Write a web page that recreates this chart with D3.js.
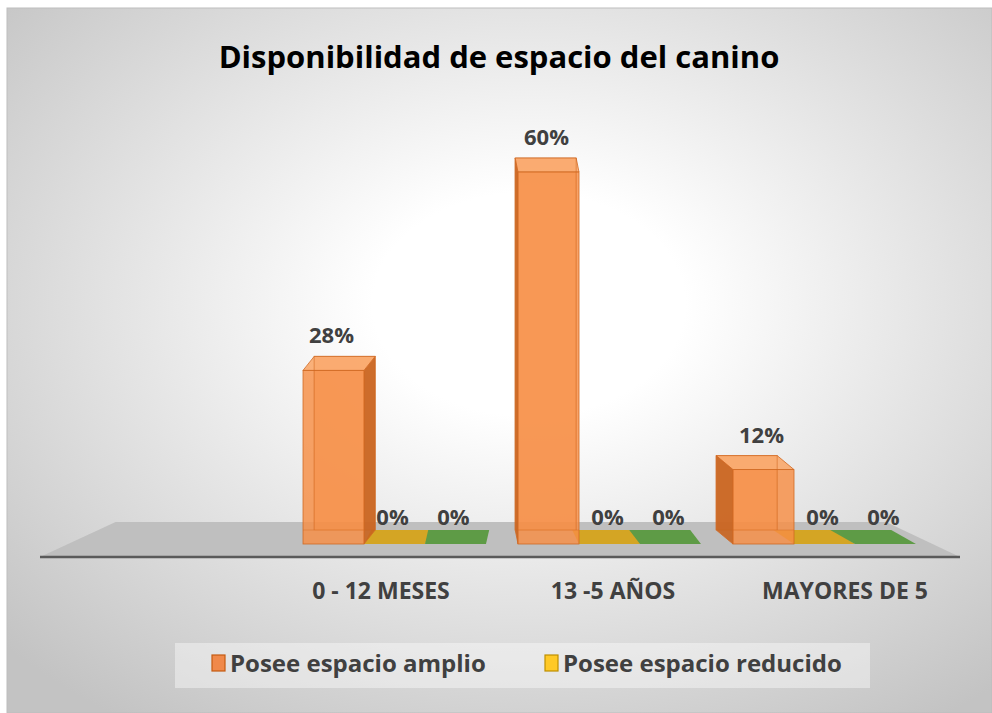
<!DOCTYPE html>
<html><head><meta charset="utf-8">
<script src="https://cdn.jsdelivr.net/npm/d3@7"></script>
<style>body{margin:0;background:#fff}svg{display:block}</style>
</head><body>
<svg id="c" width="992" height="713"></svg>
<script>
// ---- data ----
const title = "Disponibilidad de espacio del canino";
const categories = ["0 - 12 MESES", "13 -5 AÑOS", "MAYORES DE 5"];
const seriesNames = ["Posee espacio amplio", "Posee espacio reducido", "No posee espacio"];
const amplio = [0.28, 0.60, 0.12];
const reducido = [0, 0, 0];
const noPosee = [0, 0, 0];
const legendItems = ["Posee espacio amplio", "Posee espacio reducido"];

// ---- styles ----
const seriesStyle = {
  "Posee espacio amplio":   {front:"#F78E44", side:"#C8631E", top:"#F9A86C", stroke:"#D06A24", legend:"#F0894A", legendStroke:"#C55A11"},
  "Posee espacio reducido": {front:"#E8B020", side:"#B58510", top:"#D4A524", stroke:"#C99A1C", legend:"#FFC926", legendStroke:"#BF9000"},
  "No posee espacio":       {front:"#6AA84F", side:"#4C7E36", top:"#5E9B46", stroke:"#548C3C", legend:"#6AA84F", legendStroke:"#4C7E36"}
};
const FONT = "'Open Sans', Lato, sans-serif";
const TXT = "#404040";

const svg = d3.select("#c");
const W = 992, H = 713;

// background
const defs = svg.append("defs");
const rg = defs.append("radialGradient").attr("id","bg")
  .attr("cx",0.53).attr("cy",0.42).attr("r",0.72);
rg.append("stop").attr("offset",0).attr("stop-color","#ffffff");
rg.append("stop").attr("offset",0.22).attr("stop-color","#ffffff");
rg.append("stop").attr("offset",1).attr("stop-color","#c3c3c3");
svg.append("rect").attr("x",7).attr("y",8).attr("width",W-7).attr("height",H-8)
  .attr("fill","url(#bg)").attr("stroke","#bdbdbd").attr("stroke-width",1);

// scales
const x0 = d3.scaleBand().domain(categories).range([287, 932])
  .paddingInner(0.149).paddingOuter(0.0745);
const x1 = d3.scaleBand().domain(seriesNames).range([0, x0.bandwidth()]).padding(0);
const y = d3.scaleLinear().domain([0, 0.6]).range([544, 172]);
const xLabel = d3.scalePoint().domain(categories).range([381, 845]);

const VX = 505, DK = 0.065, DY = -14;
const depth = xc => [(VX - xc) * DK, DY];

// floor
const fl = 40, fr = 960, ff = y(0) + 13, FD = 2.5;
const [dlx, dly] = depth(fl), [drx] = depth(fr);
svg.append("polygon")
  .attr("points", [[fl, ff], [fl + dlx*FD, ff + dly*FD], [fr + drx*FD, ff + dly*FD], [fr, ff]].map(p => p.join(",")).join(" "))
  .attr("fill", "#bfbfbf");
svg.append("line").attr("x1", fl).attr("x2", fr).attr("y1", ff).attr("y2", ff)
  .attr("stroke", "#5a5a5a").attr("stroke-width", 2.5);

// bars
const seriesValues = [amplio, reducido, noPosee];
const bars = [];
categories.forEach((c, i) => {
  seriesNames.forEach((s, j) => {
    bars.push({cat: c, ser: s, v: seriesValues[j][i]});
  });
});
const drawOrder = bars.slice().sort((a, b) => a.v - b.v);
const g = svg.append("g");
const pts = a => a.map(p => p.join(",")).join(" ");
drawOrder.forEach(b => {
  const st = seriesStyle[b.ser];
  const xa = x0(b.cat) + x1(b.ser), xb = xa + x1.bandwidth();
  const yt = y(b.v), yb = y(0);
  const [dx, dy] = depth((xa + xb) / 2);
  const bg = g.append("g");
  if (b.v > 0) {
    bg.append("rect").attr("x", xa + dx).attr("y", yt + dy).attr("width", xb - xa).attr("height", yb - yt)
      .attr("fill", st.front).attr("fill-opacity", 0.5).attr("stroke", st.stroke).attr("stroke-opacity", 0.6);
    const sx = dx > 0 ? xb : xa;
    bg.append("polygon").attr("points", pts([[sx, yt], [sx + dx, yt + dy], [sx + dx, yb + dy], [sx, yb]]))
      .attr("fill", st.side).attr("fill-opacity", 0.9).attr("stroke", st.stroke).attr("stroke-width", 0.8);
    bg.append("polygon").attr("points", pts([[xa, yt], [xa + dx, yt + dy], [xb + dx, yt + dy], [xb, yt]]))
      .attr("fill", st.top).attr("fill-opacity", 0.9).attr("stroke", st.stroke).attr("stroke-width", 0.8);
    bg.append("rect").attr("x", xa).attr("y", yt).attr("width", xb - xa).attr("height", yb - yt)
      .attr("fill", st.front).attr("fill-opacity", 0.82).attr("stroke", st.stroke).attr("stroke-width", 0.8);
    bg.append("line").attr("x1", (dx > 0 ? xa : xb) + dx).attr("x2", (dx > 0 ? xa : xb) + dx)
      .attr("y1", yt + dy).attr("y2", yb + dy).attr("stroke", st.stroke).attr("stroke-opacity", 0.5);
    bg.append("line").attr("x1", xa).attr("x2", xb).attr("y1", yb + dy).attr("y2", yb + dy)
      .attr("stroke", st.stroke).attr("stroke-opacity", 0.45);
  } else {
    bg.append("polygon").attr("points", pts([[xa, yt], [xa + dx, yt + dy], [xb + dx, yt + dy], [xb, yt]]))
      .attr("fill", st.top);
  }
  bg.append("text").attr("x", (xa + xb) / 2 - 2).attr("y", yt + dy - (b.v > 0 ? 13 : 5))
    .attr("text-anchor", "middle").attr("font-family", FONT).attr("font-weight", 700)
    .attr("font-size", 22).attr("fill", TXT).text(d3.format(".0%")(b.v));
});

// category labels
svg.append("g").selectAll("text").data(categories).join("text")
  .attr("x", d => xLabel(d)).attr("y", 599).attr("text-anchor", "middle")
  .attr("font-family", FONT).attr("font-weight", 700).attr("font-size", 23)
  .attr("fill", TXT).text(d => d);

// title
svg.append("text").attr("x", 499).attr("y", 68).attr("text-anchor", "middle")
  .attr("font-family", FONT).attr("font-weight", 700).attr("font-size", 31)
  .attr("fill", "#000").text(title);

// legend
svg.append("rect").attr("x", 175).attr("y", 643).attr("width", 695).attr("height", 45)
  .attr("fill", "#ffffff").attr("fill-opacity", 0.4);
const lx = d3.scaleOrdinal().domain(legendItems).range([212, 545]);
const lg = svg.append("g").selectAll("g").data(legendItems).join("g")
  .attr("transform", d => `translate(${lx(d)},0)`);
lg.append("rect").attr("x", 0).attr("y", 655).attr("width", 13).attr("height", 16)
  .attr("fill", d => seriesStyle[d].legend).attr("stroke", d => seriesStyle[d].legendStroke).attr("stroke-width", 1.2);
lg.append("text").attr("x", 18).attr("y", 672)
  .attr("font-family", FONT).attr("font-weight", 700).attr("font-size", 24)
  .attr("fill", TXT).text(d => d);
</script>
</body></html>
